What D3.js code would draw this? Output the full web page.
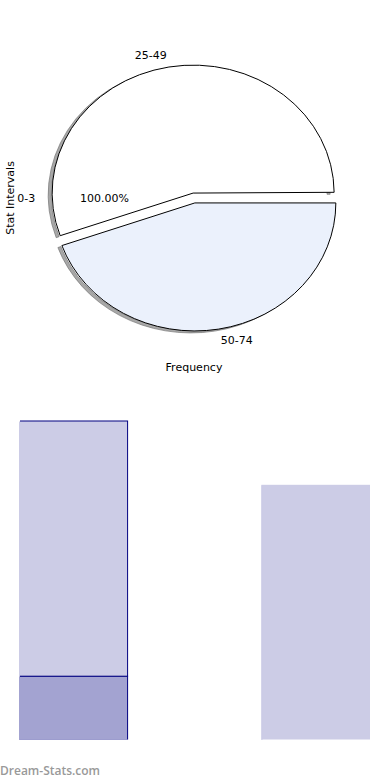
<!DOCTYPE html>
<html><head><meta charset="utf-8">
<script src="https://cdn.jsdelivr.net/npm/d3@7"></script>
<style>
body{margin:0;background:#fff}
svg{display:block}
text{font-family:"DejaVu Sans",sans-serif;font-size:11px;fill:#000}
</style></head><body>
<script>
// ---- data ----
const pieCategories = ["50-74", "25-49", "0-3"];
const pieValues = [44.6, 55.3, 0.1];
const pieCenterLabel = "100.00%";
const pieXTitle = "Frequency";
const pieYTitle = "Stat Intervals";

const barCategories = ["a", "b"];
const barSeriesLow = [1, 0];
const barSeriesHigh = [4, 4];
const barMax = 5;
const watermark = "Dream-Stats.com";

// ---- styles ----
const pieFills = ["#ebf1fc", "#ffffff", "#ffffff"];
const pieExplode = [5, 5, 0];
const W = 390, H = 780;

const svg = d3.select("body").append("svg").attr("width", W).attr("height", H);

// ---- pie (elliptical) ----
const cx = 194, cy = 198, rx = 141, ry = 128;
const pie = d3.pie().sort(null).value(d => d)
  .startAngle(Math.PI / 2).endAngle(Math.PI / 2 + 2 * Math.PI);
const arcs = pie(pieValues);
const unitArc = d3.arc().innerRadius(0).outerRadius(1);
const ringArc = d3.arc().innerRadius(0.978).outerRadius(1.0);

function offset(d, i) {
  const m = (d.startAngle + d.endAngle) / 2;
  return [Math.sin(m) * pieExplode[i], -Math.cos(m) * pieExplode[i]];
}

const gPie = svg.append("g");
// shadow rings
arcs.forEach((d, i) => {
  if (i > 1) return;
  const [ox, oy] = offset(d, i);
  gPie.append("path")
    .attr("transform", `translate(${cx + ox - 4},${cy + oy + 2}) scale(${rx},${ry})`)
    .attr("d", ringArc(d))
    .attr("fill", "#a8a8a8")
    .attr("stroke", "#6a6a6a").attr("stroke-width", 0.6)
    .attr("vector-effect", "non-scaling-stroke");
});
// slices (tiny one first)
[2, 0, 1].forEach(i => {
  const d = arcs[i];
  const [ox, oy] = offset(d, i);
  gPie.append("path")
    .attr("transform", `translate(${cx + ox},${cy + oy}) scale(${rx},${ry})`)
    .attr("d", unitArc(d))
    .attr("fill", pieFills[i])
    .attr("stroke", i === 2 ? "none" : "#000")
    .attr("stroke-width", 1)
    .attr("vector-effect", "non-scaling-stroke");
});
// slice labels
arcs.forEach((d, i) => {
  if (i > 1) return;
  const [ox, oy] = offset(d, i);
  const m = (d.startAngle + d.endAngle) / 2;
  const k = 1.09;
  const x = cx + ox + Math.sin(m) * rx * k;
  const y = cy + oy - Math.cos(m) * ry * k;
  gPie.append("text")
    .attr("x", x).attr("y", y)
    .attr("dominant-baseline", "central")
    .attr("text-anchor", Math.sin(m) < 0 ? "end" : "start")
    .text(pieCategories[i]);
});
// tiny-slice label & percentage on the left side
gPie.append("text").attr("x", cx - rx * 1.19).attr("y", cy)
  .attr("dominant-baseline", "central").attr("text-anchor", "middle")
  .text(pieCategories[2]);
gPie.append("text").attr("x", cx - rx * 0.635).attr("y", cy)
  .attr("dominant-baseline", "central").attr("text-anchor", "middle")
  .text(pieCenterLabel);
// axis titles
svg.append("text").attr("x", cx).attr("y", 367)
  .attr("dominant-baseline", "central").attr("text-anchor", "middle")
  .text(pieXTitle);
svg.append("text").attr("transform", `translate(10,${cy}) rotate(-90)`)
  .attr("dominant-baseline", "central").attr("text-anchor", "middle")
  .text(pieYTitle);

// ---- bars ----
const x = d3.scaleBand().domain(barCategories).range([19, 370])
  .paddingInner(0.552).paddingOuter(0);
const y = d3.scaleLinear().domain([0, barMax]).range([740, 421]);

svg.append("defs").append("clipPath").attr("id", "plotclip")
  .append("rect").attr("x", 20).attr("y", 400).attr("width", 360).attr("height", 339.6);

const gBars = svg.append("g").attr("clip-path", "url(#plotclip)");
barCategories.forEach((c, i) => {
  const low = barSeriesLow[i], high = barSeriesHigh[i];
  const outlined = low > 0;
  // unclipped fill so the left edge starts at the band start
  if (low > 0) {
    svg.insert("rect", "g + g")
      .attr("x", x(c)).attr("width", 1)
      .attr("y", y(low)).attr("height", y(0) - y(low))
      .attr("fill", "#a3a3d1");
  }
  svg.insert("rect", "g + g")
    .attr("x", x(c)).attr("width", 1)
    .attr("y", y(low + high) + 0.5).attr("height", y(low) - y(low + high) - 0.5)
    .attr("fill", "#cccce6");
  if (low > 0) {
    gBars.append("rect")
      .attr("x", x(c)).attr("width", x.bandwidth())
      .attr("y", y(low)).attr("height", y(0) - y(low))
      .attr("fill", "#a3a3d1")
      .attr("stroke", "#000080").attr("stroke-width", 1);
  }
  gBars.append("rect")
    .attr("x", x(c)).attr("width", x.bandwidth())
    .attr("y", y(low + high)).attr("height", y(low) - y(low + high))
    .attr("fill", "#cccce6")
    .attr("stroke", outlined ? "#000080" : "none").attr("stroke-width", 1);
});

// ---- watermark ----
svg.append("text").attr("x", 0).attr("y", 775)
  .style("font-family", "'Open Sans', sans-serif")
  .style("font-size", "12px").style("font-weight", 600)
  .style("fill", "#999")
  .text(watermark);
</script>
</body></html>
